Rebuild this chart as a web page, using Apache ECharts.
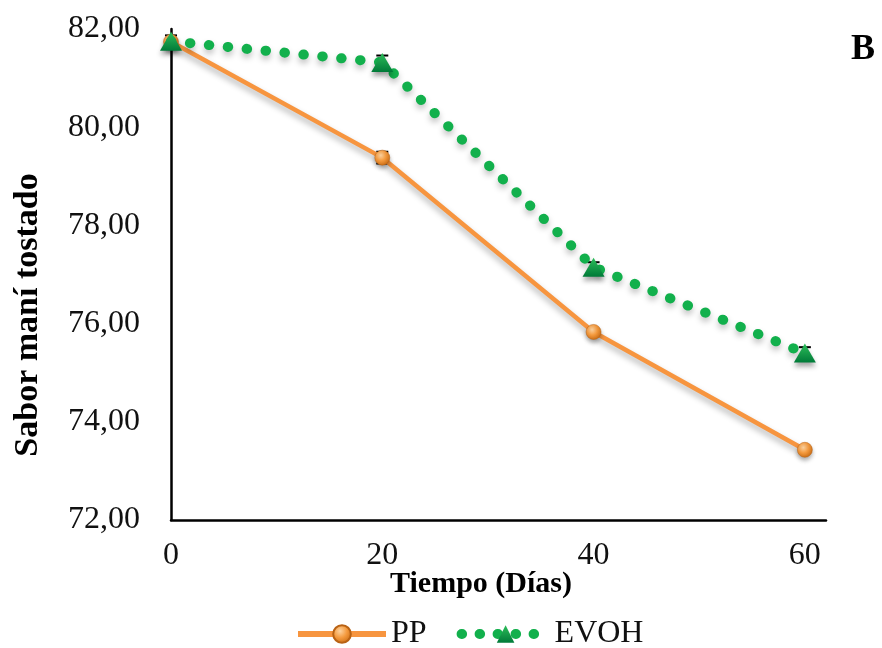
<!DOCTYPE html>
<html><head><meta charset="utf-8">
<script src="https://cdn.jsdelivr.net/npm/echarts@6/dist/echarts.min.js"></script>
<style>html,body{margin:0;padding:0;background:#fff}#c{width:882px;height:648px}</style>
</head><body><div id="c"></div>
<script>
var days = [0, 20, 40, 60];
var ppValues = [81.74, 79.38, 75.83, 73.43];
var ppErrors = [0.05, 0.12, 0.05, 0.05];
var evohValues = [81.75, 81.32, 77.15, 75.40];
var evohErrors = [0.12, 0.14, 0.10, 0.12];
var xTicks = [0, 20, 40, 60];
var yTicks = [72, 74, 76, 78, 80, 82];

var FONT = 'Liberation Serif';
function pairs(xs, ys){ return xs.map(function(x,i){ return [x, ys[i]]; }); }
function errData(xs, ys, es){ return xs.map(function(x,i){ return [x, ys[i], es[i]]; }); }
function errRender(params, api){
  var x = api.value(0), y = api.value(1), e = api.value(2);
  var hi = api.coord([x, y + e]), lo = api.coord([x, y - e]);
  var w = 6;
  var st = {stroke:'#000', lineWidth:2};
  return {type:'group', children:[
    {type:'line', shape:{x1:hi[0],y1:hi[1],x2:lo[0],y2:lo[1]}, style:st},
    {type:'line', shape:{x1:hi[0]-w,y1:hi[1],x2:hi[0]+w,y2:hi[1]}, style:st},
    {type:'line', shape:{x1:lo[0]-w,y1:lo[1],x2:lo[0]+w,y2:lo[1]}, style:st}
  ]};
}
var orangeBall = {type:'radial', x:0.4, y:0.35, r:0.7, colorStops:[{offset:0,color:'#FDD3A0'},{offset:0.5,color:'#F49A3E'},{offset:1,color:'#C86A12'}]};
var greenTri = {type:'linear', x:0, y:0, x2:0, y2:1, colorStops:[{offset:0,color:'#2DBE5A'},{offset:1,color:'#007A38'}]};

var chart = echarts.init(document.getElementById('c'), null, {renderer:'canvas'});
chart.setOption({
  animation:false,
  backgroundColor:'#fff',
  grid:{left:171, right:56, top:29, bottom:128, containLabel:false},
  xAxis:{type:'value', min:0, max:62, interval:20,
    axisLine:{show:true, lineStyle:{color:'#000', width:2.5}},
    axisTick:{show:false}, splitLine:{show:false},
    axisLabel:{margin:20, color:'#111', fontFamily:FONT, fontSize:32,
      formatter:function(v){ return xTicks.indexOf(v) >= 0 ? String(v) : ''; }}},
  yAxis:{type:'value', min:yTicks[0], max:yTicks[yTicks.length-1], interval:2,
    axisLine:{show:true, lineStyle:{color:'#000', width:2.5}},
    axisTick:{show:false}, splitLine:{show:false},
    axisLabel:{margin:31, color:'#111', fontFamily:FONT, fontSize:32,
      formatter:function(v){ return v.toFixed(2).replace('.', ','); }}},
  legend:{top:613, left:290, itemWidth:88, itemHeight:22, itemGap:30,
    textStyle:{fontFamily:FONT, fontSize:32, color:'#111'},
    data:[
      {name:'PP', lineStyle:{width:6}},
      {name:'EVOH', lineStyle:{width:10, type:[0.5,17.5], cap:'round'}}
    ]},
  graphic:[
    {type:'text', x:28, y:315, rotation:Math.PI/2,
      style:{text:'Sabor maní tostado', font:'bold 34px "Liberation Serif"', fill:'#000', textAlign:'center', textVerticalAlign:'middle'}},
    {type:'text', x:481, y:584, style:{text:'Tiempo (Días)', font:'bold 30px "Liberation Serif"', fill:'#000', textAlign:'center', textVerticalAlign:'middle'}},
    {type:'text', x:863, y:50, style:{text:'B', font:'bold 36px "Liberation Serif"', fill:'#000', textAlign:'center', textVerticalAlign:'middle'}}
  ],
  series:[
    {name:'PPerr', type:'custom', renderItem:errRender, data:errData(days, ppValues, ppErrors), z:3, silent:true},
    {name:'EVOHerr', type:'custom', renderItem:errRender, data:errData(days, evohValues, evohErrors), z:3, silent:true},
    {name:'PP', type:'line', data:pairs(days, ppValues), z:5,
      symbol:'circle', symbolSize:15,
      lineStyle:{color:'#F7953F', width:4.5, shadowColor:'rgba(0,0,0,0.3)', shadowBlur:6, shadowOffsetY:4},
      itemStyle:{color:orangeBall, borderColor:'#B86214', borderWidth:0.5, shadowColor:'rgba(0,0,0,0.3)', shadowBlur:4, shadowOffsetY:3}},
    {name:'EVOH', type:'line', data:pairs(days, evohValues), z:6,
      symbol:'triangle', symbolSize:[22,19],
      lineStyle:{color:'#12B04C', width:10, type:[0.5,18.5], cap:'round', shadowColor:'rgba(0,0,0,0.25)', shadowBlur:6, shadowOffsetY:4},
      itemStyle:{color:greenTri, shadowColor:'rgba(0,0,0,0.35)', shadowBlur:5, shadowOffsetY:4}}
  ]
});
</script></body></html>
